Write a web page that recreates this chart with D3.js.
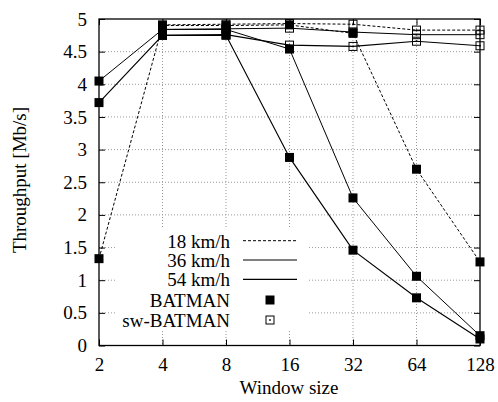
<!DOCTYPE html>
<html><head><meta charset="utf-8">
<script src="https://cdn.jsdelivr.net/npm/d3@7"></script>
</head><body style="margin:0">
<svg id="c" width="498" height="402"></svg>
<script>
const windowSizes = ["2","4","8","16","32","64","128"];
const yTicks = [0,0.5,1,1.5,2,2.5,3,3.5,4,4.5,5];
const batman18 = [1.33,4.90,4.90,4.91,4.78,2.70,1.28];
const batman36 = [4.05,4.84,4.84,4.54,2.26,1.06,0.15];
const batman54 = [3.72,4.75,4.75,2.88,1.46,0.73,0.10];
const swBatman18 = [null,4.91,4.92,4.93,4.92,4.83,4.83];
const swBatman36 = [null,4.84,4.85,4.86,4.80,4.76,4.76];
const swBatman54 = [null,4.75,4.76,4.60,4.58,4.66,4.59];
const speeds = ["18 km/h","36 km/h","54 km/h"];
const protocols = ["BATMAN","sw-BATMAN"];
const fontNames = ["Liberation Serif"];

const svg = d3.select("#c");
const L=99, R=480, T=19, B=345.5;
const x = d3.scalePoint().domain(windowSizes).range([L,R]);
const y = d3.scaleLinear().domain([0,5]).range([B,T]);

// grid
const g = svg.append("g");
g.selectAll(".gy").data(yTicks.slice(1,-1)).join("line")
 .attr("x1",L).attr("x2",R).attr("y1",d=>y(d)).attr("y2",d=>y(d))
 .attr("stroke","#999").attr("stroke-width",1).attr("stroke-dasharray","1,2");
g.selectAll(".gx").data(windowSizes.slice(1,-1)).join("line")
 .attr("y1",T).attr("y2",B).attr("x1",d=>x(d)).attr("x2",d=>x(d))
 .attr("stroke","#999").attr("stroke-width",1).attr("stroke-dasharray","1,2");

// axes
const axes = [
 svg.append("g").attr("transform",`translate(0,${B})`)
  .call(d3.axisBottom(x).tickSizeInner(-6).tickSizeOuter(0).tickPadding(12)),
 svg.append("g").attr("transform",`translate(0,${T})`)
  .call(d3.axisTop(x).tickSizeInner(-6).tickSizeOuter(0).tickFormat("")),
 svg.append("g").attr("transform",`translate(${L},0)`)
  .call(d3.axisLeft(y).tickValues(yTicks).tickSizeInner(-6).tickSizeOuter(0).tickPadding(12).tickFormat(d3.format(""))),
 svg.append("g").attr("transform",`translate(${R},0)`)
  .call(d3.axisRight(y).tickValues(yTicks).tickSizeInner(-6).tickSizeOuter(0).tickFormat(""))
];
axes.forEach(a=>a.attr("font-family",null).attr("font-size",null));
svg.selectAll(".domain").remove();
svg.selectAll(".tick line").attr("stroke","#000");
svg.append("rect").attr("x",L).attr("y",T).attr("width",R-L).attr("height",B-T)
 .attr("fill","none").attr("stroke","#000").attr("stroke-width",1.3);

// legend background
svg.append("rect").attr("x",117).attr("y",229).attr("width",191).attr("height",100).attr("fill","#fff");

const dashes = ["3,2",null,null];
const widths = [1,1,1.15];
const line = d3.line().defined(d=>d!=null).x((d,i)=>x(windowSizes[i])).y(d=>y(d));
const bat = [batman18,batman36,batman54];
const sw = [swBatman18,swBatman36,swBatman54];
[sw,bat].forEach(set=>set.forEach((s,k)=>{
  svg.append("path").datum(s).attr("d",line).attr("fill","none").attr("stroke","#000")
   .attr("stroke-width",widths[k]).attr("stroke-dasharray",dashes[k]);
}));
function openSq(sel){
  sel.append("rect").attr("x",-4).attr("y",-4).attr("width",8).attr("height",8).attr("fill","none").attr("stroke","#000").attr("stroke-width",1);
  sel.append("rect").attr("x",-0.8).attr("y",-0.8).attr("width",1.6).attr("height",1.6).attr("fill","#000");
}
function fillSq(sel){
  sel.append("rect").attr("x",-4.5).attr("y",-4.5).attr("width",9).attr("height",9).attr("fill","#000");
}
sw.forEach(s=>{
  s.forEach((v,i)=>{ if(v==null) return;
    const gg=svg.append("g").attr("transform",`translate(${x(windowSizes[i])},${y(v)})`); openSq(gg);});
});
bat.forEach(s=>{
  s.forEach((v,i)=>{ if(v==null) return;
    const gg=svg.append("g").attr("transform",`translate(${x(windowSizes[i])},${y(v)})`); fillSq(gg);});
});

// legend
const lg = svg.append("g");
const rows = [240.7,260,279.3,300,320];
speeds.forEach((s,k)=>{
  lg.append("text").attr("x",230).attr("y",rows[k]+7).attr("text-anchor","end").text(s);
  lg.append("line").attr("x1",243).attr("x2",297).attr("y1",rows[k]).attr("y2",rows[k])
   .attr("stroke","#000").attr("stroke-width",widths[k]).attr("stroke-dasharray",dashes[k]);
});
protocols.forEach((p,k)=>{
  const yy=rows[3+k];
  lg.append("text").attr("x",230).attr("y",yy+6.5).attr("text-anchor","end").text(p);
  const gg=lg.append("g").attr("transform",`translate(270,${yy})`);
  if(k===0) fillSq(gg); else openSq(gg);
});

svg.append("text").attr("x",289).attr("y",394).attr("text-anchor","middle").text("Window size");
svg.append("text").attr("transform","translate(26,180) rotate(-90)").attr("text-anchor","middle").text("Throughput [Mb/s]");

svg.selectAll("text").attr("font-size",19).attr("fill","#000").style("font-family",()=>`'${fontNames[0]}'`);
</script>
</body></html>
